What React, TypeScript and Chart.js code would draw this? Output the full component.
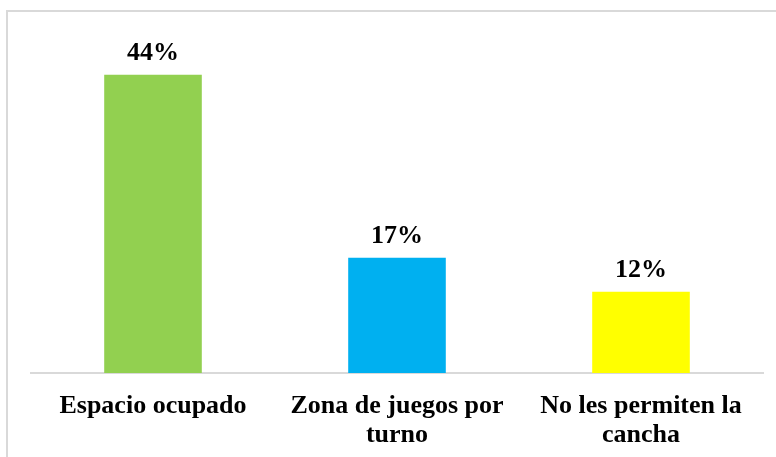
import React, { useEffect, useRef } from "react";
import { Chart, registerables } from "chart.js";

Chart.register(...registerables);

const categories: (string | string[])[] = [
  "Espacio ocupado",
  ["Zona de juegos por", "turno"],
  ["No les permiten la", "cancha"],
];
const values: number[] = [44, 17, 12];
const barColors: string[] = ["#92D050", "#00B0F0", "#FFFF00"];
const valueLabels: string[] = ["44%", "17%", "12%"];

const FONT = '"Liberation Serif", "Times New Roman", serif';

const dataLabelPlugin = {
  id: "dataLabels",
  afterDatasetsDraw(chart: any) {
    const ctx = chart.ctx;
    const meta = chart.getDatasetMeta(0);
    ctx.save();
    ctx.font = `bold 26px ${FONT}`;
    ctx.fillStyle = "#000";
    ctx.textAlign = "center";
    ctx.textBaseline = "alphabetic";
    meta.data.forEach((bar: any, i: number) => {
      ctx.fillText(valueLabels[i], bar.x, bar.y - 15);
    });
    ctx.restore();
  },
};

export default function App() {
  const ref = useRef<HTMLCanvasElement>(null);
  useEffect(() => {
    if (!ref.current) return;
    const chart = new Chart(ref.current, {
      type: "bar",
      data: {
        labels: categories,
        datasets: [
          {
            data: values,
            backgroundColor: barColors,
            borderWidth: 0,
            barPercentage: 0.4,
            categoryPercentage: 1,
          },
        ],
      },
      options: {
        responsive: false,
        animation: false,
        layout: { padding: { left: 31, right: 13, top: 34, bottom: 0 } },
        plugins: { legend: { display: false }, tooltip: { enabled: false } },
        scales: {
          y: { display: false, min: 0, max: 50 },
          x: {
            grid: { display: false, drawTicks: false },
            border: { display: true, color: "#d9d9d9", width: 2 },
            ticks: {
              color: "#000",
              padding: 19,
              font: { family: FONT, size: 26, weight: "bold", lineHeight: 1.1 },
              maxRotation: 0,
              autoSkip: false,
            },
            afterFit: (scale: any) => {
              scale.height = 84;
            },
          },
        },
      },
      plugins: [dataLabelPlugin],
    });
    return () => chart.destroy();
  }, []);
  return (
    <div
      style={{
        position: "fixed",
        left: 0,
        top: 0,
        width: 776,
        height: 457,
        overflow: "hidden",
        background: "#fff",
      }}
    >
      <div
        style={{
          position: "absolute",
          left: 6,
          top: 10,
          width: 800,
          height: 500,
          borderTop: "2px solid #d9d9d9",
          borderLeft: "2px solid #d9d9d9",
        }}
      />
      <canvas
        ref={ref}
        width={776}
        height={457}
        style={{ position: "absolute", left: 0, top: 0, width: 776, height: 457 }}
      />
    </div>
  );
}
